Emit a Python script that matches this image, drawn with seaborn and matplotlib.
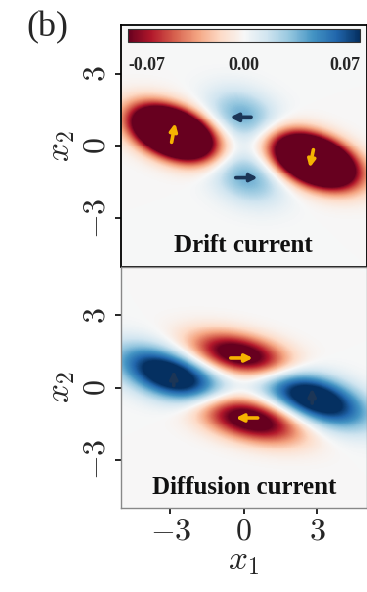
import numpy as np
import pandas as pd
import matplotlib
matplotlib.use("Agg")
import matplotlib.pyplot as plt
import seaborn as sns

sns.set_style("ticks")
plt.rcParams["mathtext.fontset"] = "cm"
plt.rcParams["font.family"] = ["Liberation Serif", "DejaVu Serif"]

# Grid of the phase plane
n_grid = 251
x1_vals = np.linspace(-5, 5, n_grid)
x2_vals = np.linspace(5, -5, n_grid)   # rows from top (+5) to bottom (-5)

# Current lobes: centre x1, centre x2, major sigma, minor sigma, tilt (deg), amplitude
drift_cx = [-2.9, 2.9, 0.0, 0.1]
drift_cy = [0.55, -0.6, 1.25, -1.3]
drift_sa = [1.1, 1.1, 1.05, 1.05]
drift_sb = [0.6, 0.6, 0.7, 0.7]
drift_ang = [-22, -22, -22, -22]
drift_amp = [-0.25, -0.25, 0.035, 0.035]

diff_cx = [-0.1, 0.2, -3.0, 2.9]
diff_cy = [1.35, -1.3, 0.5, -0.45]
diff_sa = [1.4, 1.45, 1.5, 1.5]
diff_sb = [0.56, 0.58, 0.65, 0.65]
diff_ang = [-13, -14, -20, -20]
diff_amp = [-0.092, -0.092, 0.095, 0.095]

# Arrows: tail (x, y) -> head (x, y)
drift_arrows_gold = [((-2.95, 0.15), (-2.8, 0.95)), ((2.85, -0.15), (2.7, -0.9))]
drift_arrows_navy = [((0.3, 1.19), (-0.55, 1.19)), ((-0.33, -1.31), (0.57, -1.31))]
diff_arrows_gold = [((-0.53, 1.23), (0.37, 1.23)), ((0.57, -1.27), (-0.33, -1.27))]
diff_arrows_navy = [((-2.86, 0.08), (-2.86, 0.7)), ((2.8, -0.65), (2.8, -0.04))]

cbar_ticks = [-0.07, 0.0, 0.07]
cbar_labels = ["-0.07", "0.00", "0.07"]
axis_ticks = [-3, 0, 3]
axis_ticklabels = ["$-3$", "$0$", "$3$"]


def field(cx, cy, sa, sb, ang, amp):
    X, Y = np.meshgrid(x1_vals, x2_vals)
    Z = np.zeros_like(X)
    for x0, y0, a, b, t, A in zip(cx, cy, sa, sb, ang, amp):
        th = np.deg2rad(t)
        dx, dy = X - x0, Y - y0
        u = dx * np.cos(th) + dy * np.sin(th)
        v = -dx * np.sin(th) + dy * np.cos(th)
        Z += A * np.exp(-0.5 * ((u / a) ** 2 + (v / b) ** 2))
    return pd.DataFrame(Z, index=np.round(x2_vals, 3), columns=np.round(x1_vals, 3))


def px(x):
    return (x + 5) / 10 * (n_grid - 1) + 0.5


def py(y):
    return (5 - y) / 10 * (n_grid - 1) + 0.5


drift = field(drift_cx, drift_cy, drift_sa, drift_sb, drift_ang, drift_amp)
diffusion = field(diff_cx, diff_cy, diff_sa, diff_sb, diff_ang, diff_amp)

W, H = 367, 592
fig = plt.figure(figsize=(W / 100, H / 100), dpi=100)
ax1 = fig.add_axes([121 / W, 1 - 267 / H, 245.5 / W, 242 / H])
ax2 = fig.add_axes([121 / W, 1 - 508 / H, 245.5 / W, 241 / H])
cax = fig.add_axes([128 / W, 1 - 42 / H, 232 / W, 13 / H])

sns.heatmap(drift, ax=ax1, cmap="RdBu", vmin=-0.07, vmax=0.07,
            xticklabels=False, yticklabels=False, cbar_ax=cax,
            cbar_kws={"orientation": "horizontal"}, rasterized=True)
sns.heatmap(diffusion, ax=ax2, cmap="RdBu", vmin=-0.07, vmax=0.07,
            xticklabels=False, yticklabels=False, cbar=False, rasterized=True)

# Colour bar
cbar = ax1.collections[0].colorbar
cbar.set_ticks(cbar_ticks)
cbar.set_ticklabels(cbar_labels)
cax.tick_params(length=0, pad=11)
for lab, ha in zip(cax.get_xticklabels(), ["left", "center", "right"]):
    lab.set_ha(ha)
    lab.set_fontweight("bold")
    lab.set_fontsize(13)
cbar.outline.set_linewidth(0.8)
cbar.outline.set_edgecolor("#333333")

for ax, spine_col, spine_w in [(ax1, "black", 1.3), (ax2, "#888888", 1.0)]:
    for sp in ax.spines.values():
        sp.set_visible(True)
        sp.set_color(spine_col)
        sp.set_linewidth(spine_w)
    ax.set_yticks([py(v) for v in axis_ticks])
    ax.set_yticklabels(axis_ticklabels, rotation=90, va="center", fontsize=23)
    ax.tick_params(axis="y", left=True, length=4, width=1.2, color="black",
                   direction="out", pad=3)
    ax.set_ylabel("$x_2$", fontsize=24, rotation=90, labelpad=4)

ax1.set_xticks([])
ax2.set_xticks([px(v) for v in axis_ticks])
ax2.set_xticklabels(axis_ticklabels, fontsize=23)
ax2.tick_params(axis="x", bottom=True, length=4, width=1.2, color="black",
                direction="out", pad=3)
ax2.set_xlabel("$x_1$", fontsize=24, labelpad=0)

ax1.text(0.5, 0.09, "Drift current", transform=ax1.transAxes, ha="center",
         va="center", fontsize=18, fontweight="bold", color="#111111")
ax2.text(0.5, 0.083, "Diffusion current", transform=ax2.transAxes, ha="center",
         va="center", fontsize=18, fontweight="bold", color="#111111")


def draw_arrows(ax, arrows, color):
    for (x0, y0), (x1, y1) in arrows:
        ax.annotate("", xy=(px(x1), py(y1)), xytext=(px(x0), py(y0)),
                    arrowprops=dict(arrowstyle="-|>", color=color, lw=2.6,
                                    mutation_scale=11, shrinkA=0, shrinkB=0))


gold = "#f5b301"
navy = "#1b3556"
draw_arrows(ax1, drift_arrows_gold, gold)
draw_arrows(ax1, drift_arrows_navy, navy)
draw_arrows(ax2, diff_arrows_gold, gold)
draw_arrows(ax2, diff_arrows_navy, navy)

fig.text(26 / W, 1 - 28 / H, "(b)", fontsize=26, va="center", ha="left")

fig.savefig("out.png", dpi=100)
